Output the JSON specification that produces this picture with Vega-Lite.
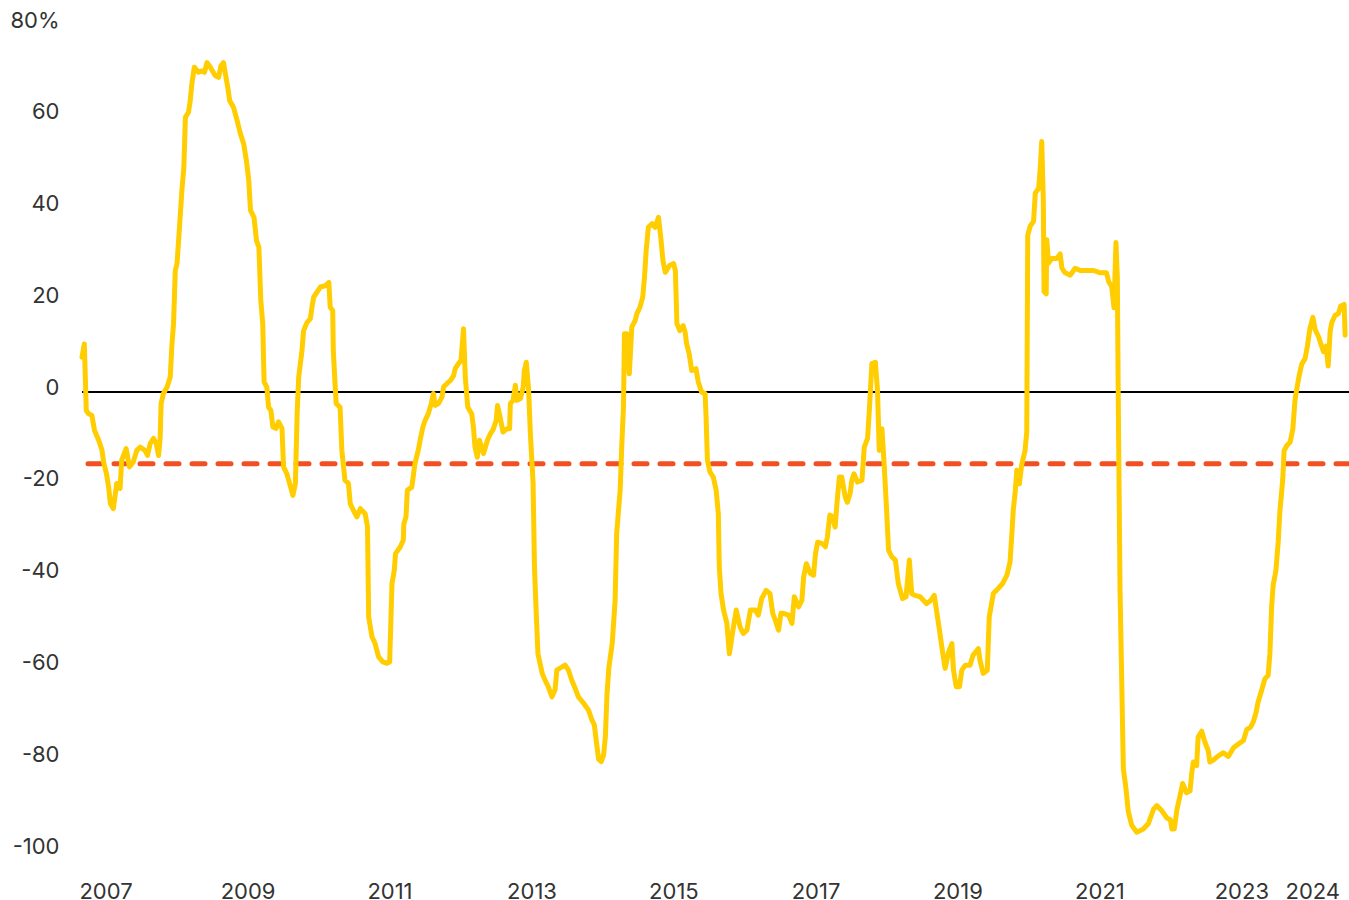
{
  "$schema": "https://vega.github.io/schema/vega-lite/v6.json",
  "width": 1267,
  "height": 826,
  "autosize": {"type": "none"},
  "padding": {"left": 82, "top": 25, "right": 0, "bottom": 49},
  "background": "#ffffff",
  "config": {
    "view": {"stroke": null},
    "font": "Inter",
    "axis": {"labelFont": "Inter", "labelFontSize": 22, "labelColor": "#333333", "domain": false, "ticks": false, "grid": false, "title": null}
  },
  "datasets": {
    "series": [
      {"d":"2006-09-02","v":7.6},{"d":"2006-09-14","v":10.5},{"d":"2006-09-24","v":-4.0},{"d":"2006-10-06","v":-4.7},{"d":"2006-10-23","v":-5.1},{"d":"2006-11-05","v":-8.3},{"d":"2006-11-27","v":-10.5},{"d":"2006-12-14","v":-12.7},{"d":"2006-12-22","v":-15.2},
      {"d":"2007-01-06","v":-17.8},{"d":"2007-01-17","v":-20.7},{"d":"2007-01-26","v":-24.3},{"d":"2007-02-10","v":-25.4},{"d":"2007-02-28","v":-19.9},{"d":"2007-03-17","v":-21.0},{"d":"2007-03-25","v":-14.9},{"d":"2007-04-17","v":-12.3},{"d":"2007-05-04","v":-16.3},{"d":"2007-05-24","v":-15.2},{"d":"2007-06-11","v":-12.7},{"d":"2007-06-28","v":-12.0},{"d":"2007-07-23","v":-12.7},{"d":"2007-08-05","v":-13.8},{"d":"2007-08-19","v":-11.2},{"d":"2007-09-05","v":-10.1},{"d":"2007-09-19","v":-11.2},{"d":"2007-10-01","v":-13.8},{"d":"2007-10-09","v":-10.1},{"d":"2007-10-14","v":-2.5},{"d":"2007-10-26","v":-0.3},{"d":"2007-11-14","v":1.1},{"d":"2007-11-30","v":3.3},{"d":"2007-12-09","v":10.5},{"d":"2007-12-17","v":14.9},{"d":"2007-12-26","v":26.5},
      {"d":"2008-01-04","v":28.0},{"d":"2008-01-12","v":33.0},{"d":"2008-01-21","v":38.8},{"d":"2008-01-29","v":43.9},{"d":"2008-02-08","v":49.0},{"d":"2008-02-16","v":59.9},{"d":"2008-03-03","v":61.0},{"d":"2008-03-12","v":63.5},{"d":"2008-03-20","v":67.1},{"d":"2008-04-02","v":70.8},{"d":"2008-04-24","v":69.7},{"d":"2008-05-11","v":70.0},{"d":"2008-05-24","v":69.7},{"d":"2008-06-06","v":71.8},{"d":"2008-06-23","v":70.8},{"d":"2008-07-18","v":69.0},{"d":"2008-08-05","v":68.6},{"d":"2008-08-17","v":71.1},{"d":"2008-08-30","v":71.8},{"d":"2008-09-09","v":69.3},{"d":"2008-09-21","v":66.4},{"d":"2008-10-01","v":63.5},{"d":"2008-10-21","v":62.0},{"d":"2008-11-08","v":59.2},{"d":"2008-11-25","v":56.3},{"d":"2008-12-12","v":54.1},{"d":"2008-12-26","v":50.4},
      {"d":"2009-01-07","v":46.1},{"d":"2009-01-16","v":39.6},{"d":"2009-02-03","v":38.1},{"d":"2009-02-16","v":33.0},{"d":"2009-02-28","v":31.6},{"d":"2009-03-10","v":20.0},{"d":"2009-03-20","v":14.9},{"d":"2009-03-27","v":2.2},{"d":"2009-04-10","v":1.1},{"d":"2009-04-19","v":-3.3},{"d":"2009-05-01","v":-4.0},{"d":"2009-05-11","v":-7.6},{"d":"2009-05-28","v":-7.9},{"d":"2009-06-09","v":-6.5},{"d":"2009-06-27","v":-7.9},{"d":"2009-07-05","v":-16.3},{"d":"2009-07-22","v":-17.8},{"d":"2009-08-05","v":-19.9},{"d":"2009-08-22","v":-22.5},{"d":"2009-09-04","v":-19.9},{"d":"2009-09-13","v":-4.6},{"d":"2009-09-21","v":3.3},{"d":"2009-10-08","v":9.1},{"d":"2009-10-16","v":13.4},{"d":"2009-11-03","v":15.2},{"d":"2009-11-20","v":16.0},{"d":"2009-11-28","v":18.5},{"d":"2009-12-07","v":20.7},{"d":"2009-12-24","v":21.8},
      {"d":"2010-01-11","v":22.9},{"d":"2010-02-06","v":23.2},{"d":"2010-02-23","v":23.9},{"d":"2010-03-02","v":18.5},{"d":"2010-03-15","v":17.8},{"d":"2010-03-18","v":9.1},{"d":"2010-03-27","v":1.8},{"d":"2010-04-02","v":-2.5},{"d":"2010-04-22","v":-3.3},{"d":"2010-05-01","v":-12.7},{"d":"2010-05-17","v":-19.2},{"d":"2010-06-04","v":-19.9},{"d":"2010-06-13","v":-24.3},{"d":"2010-06-30","v":-25.8},{"d":"2010-07-17","v":-27.2},{"d":"2010-08-04","v":-25.4},{"d":"2010-08-29","v":-26.5},{"d":"2010-09-10","v":-29.4},{"d":"2010-09-16","v":-49.0},{"d":"2010-10-03","v":-53.3},{"d":"2010-10-19","v":-54.8},{"d":"2010-11-06","v":-57.7},{"d":"2010-11-28","v":-58.8},{"d":"2010-12-19","v":-59.1},
      {"d":"2011-01-02","v":-58.8},{"d":"2011-01-14","v":-41.7},{"d":"2011-01-26","v":-38.8},{"d":"2011-02-01","v":-35.2},{"d":"2011-02-26","v":-33.7},{"d":"2011-03-13","v":-32.3},{"d":"2011-03-16","v":-28.7},{"d":"2011-03-27","v":-27.2},{"d":"2011-04-03","v":-21.4},{"d":"2011-04-26","v":-20.7},{"d":"2011-05-12","v":-15.6},{"d":"2011-05-29","v":-12.7},{"d":"2011-06-11","v":-9.8},{"d":"2011-06-22","v":-7.6},{"d":"2011-07-03","v":-6.2},{"d":"2011-07-20","v":-4.7},{"d":"2011-08-04","v":-2.5},{"d":"2011-08-15","v":-0.3},{"d":"2011-08-24","v":-2.9},{"d":"2011-09-10","v":-2.5},{"d":"2011-09-28","v":-1.1},{"d":"2011-10-06","v":1.1},{"d":"2011-11-01","v":2.2},{"d":"2011-11-10","v":2.5},{"d":"2011-11-27","v":3.6},{"d":"2011-12-05","v":5.1},{"d":"2011-12-22","v":6.2},
      {"d":"2012-01-04","v":6.9},{"d":"2012-01-17","v":13.8},{"d":"2012-01-26","v":3.3},{"d":"2012-02-08","v":-3.3},{"d":"2012-02-28","v":-4.7},{"d":"2012-03-08","v":-7.6},{"d":"2012-03-16","v":-12.0},{"d":"2012-03-28","v":-14.2},{"d":"2012-04-08","v":-10.5},{"d":"2012-04-29","v":-13.4},{"d":"2012-05-19","v":-10.5},{"d":"2012-06-03","v":-9.1},{"d":"2012-06-19","v":-8.0},{"d":"2012-07-03","v":-6.2},{"d":"2012-07-10","v":-2.9},{"d":"2012-07-23","v":-5.4},{"d":"2012-08-07","v":-8.7},{"d":"2012-08-27","v":-8.0},{"d":"2012-09-10","v":-8.0},{"d":"2012-09-14","v":-2.5},{"d":"2012-09-28","v":-1.8},{"d":"2012-10-10","v":1.5},{"d":"2012-10-18","v":-1.8},{"d":"2012-11-05","v":-1.4},{"d":"2012-11-19","v":1.1},{"d":"2012-11-25","v":4.7},{"d":"2012-12-05","v":6.5},{"d":"2012-12-17","v":0.4},{"d":"2012-12-26","v":-9.1},
      {"d":"2013-01-09","v":-19.9},{"d":"2013-01-16","v":-38.1},{"d":"2013-01-26","v":-49.0},{"d":"2013-02-03","v":-57.0},{"d":"2013-02-25","v":-61.3},{"d":"2013-03-12","v":-62.8},{"d":"2013-03-28","v":-64.2},{"d":"2013-04-16","v":-66.4},{"d":"2013-05-02","v":-64.9},{"d":"2013-05-11","v":-60.6},{"d":"2013-06-06","v":-59.9},{"d":"2013-06-23","v":-59.5},{"d":"2013-07-10","v":-60.6},{"d":"2013-07-27","v":-62.8},{"d":"2013-08-14","v":-64.6},{"d":"2013-08-30","v":-66.4},{"d":"2013-09-26","v":-67.8},{"d":"2013-10-21","v":-69.3},{"d":"2013-11-08","v":-71.5},{"d":"2013-11-20","v":-72.5},{"d":"2013-11-30","v":-76.0},{"d":"2013-12-12","v":-80.0},{"d":"2013-12-26","v":-80.5},
      {"d":"2014-01-07","v":-79.0},{"d":"2014-01-16","v":-75.0},{"d":"2014-01-24","v":-66.0},{"d":"2014-02-03","v":-60.0},{"d":"2014-02-20","v":-54.8},{"d":"2014-03-07","v":-45.4},{"d":"2014-03-15","v":-30.8},{"d":"2014-04-02","v":-21.4},{"d":"2014-04-10","v":-12.0},{"d":"2014-04-19","v":-3.3},{"d":"2014-04-24","v":12.7},{"d":"2014-05-06","v":12.7},{"d":"2014-05-19","v":4.0},{"d":"2014-06-01","v":14.2},{"d":"2014-06-18","v":15.6},{"d":"2014-06-27","v":17.1},{"d":"2014-07-13","v":18.5},{"d":"2014-07-27","v":20.7},{"d":"2014-08-05","v":25.0},{"d":"2014-08-14","v":30.9},{"d":"2014-08-25","v":35.9},{"d":"2014-09-13","v":36.7},{"d":"2014-09-29","v":35.9},{"d":"2014-10-16","v":38.1},{"d":"2014-10-28","v":33.7},{"d":"2014-11-08","v":28.7},{"d":"2014-11-20","v":26.1},{"d":"2014-12-12","v":27.6},
      {"d":"2015-01-02","v":28.0},{"d":"2015-01-11","v":26.5},{"d":"2015-01-19","v":14.9},{"d":"2015-02-03","v":13.4},{"d":"2015-02-20","v":14.5},{"d":"2015-03-02","v":13.1},{"d":"2015-03-10","v":10.5},{"d":"2015-03-23","v":8.4},{"d":"2015-04-05","v":4.7},{"d":"2015-04-27","v":5.1},{"d":"2015-05-09","v":2.2},{"d":"2015-05-26","v":0.0},{"d":"2015-06-13","v":-0.3},{"d":"2015-06-18","v":-5.4},{"d":"2015-06-25","v":-14.9},{"d":"2015-07-08","v":-17.4},{"d":"2015-07-25","v":-18.5},{"d":"2015-08-09","v":-21.4},{"d":"2015-08-20","v":-26.5},{"d":"2015-08-25","v":-38.1},{"d":"2015-09-03","v":-43.9},{"d":"2015-09-16","v":-47.5},{"d":"2015-10-03","v":-50.4},{"d":"2015-10-16","v":-57.0},{"d":"2015-11-03","v":-51.9},{"d":"2015-11-20","v":-47.5},{"d":"2015-12-10","v":-51.2},{"d":"2015-12-27","v":-52.6},
      {"d":"2016-01-14","v":-51.9},{"d":"2016-02-01","v":-47.5},{"d":"2016-02-26","v":-47.5},{"d":"2016-03-13","v":-48.6},{"d":"2016-03-30","v":-45.0},{"d":"2016-04-22","v":-43.2},{"d":"2016-05-12","v":-43.9},{"d":"2016-05-26","v":-48.2},{"d":"2016-06-08","v":-49.7},{"d":"2016-06-25","v":-51.9},{"d":"2016-07-07","v":-48.2},{"d":"2016-07-20","v":-48.2},{"d":"2016-08-15","v":-48.6},{"d":"2016-09-02","v":-50.4},{"d":"2016-09-14","v":-44.6},{"d":"2016-10-06","v":-46.8},{"d":"2016-10-23","v":-45.4},{"d":"2016-11-01","v":-40.3},{"d":"2016-11-15","v":-37.4},{"d":"2016-12-05","v":-39.5},{"d":"2016-12-22","v":-39.9},
      {"d":"2017-01-01","v":-35.2},{"d":"2017-01-12","v":-32.7},{"d":"2017-02-04","v":-33.0},{"d":"2017-02-21","v":-33.7},{"d":"2017-03-03","v":-31.6},{"d":"2017-03-16","v":-26.8},{"d":"2017-03-30","v":-27.2},{"d":"2017-04-12","v":-29.4},{"d":"2017-04-24","v":-22.9},{"d":"2017-05-04","v":-18.5},{"d":"2017-05-16","v":-18.5},{"d":"2017-06-03","v":-22.9},{"d":"2017-06-14","v":-24.0},{"d":"2017-06-28","v":-22.1},{"d":"2017-07-07","v":-19.2},{"d":"2017-07-18","v":-17.8},{"d":"2017-08-05","v":-19.6},{"d":"2017-08-28","v":-19.2},{"d":"2017-09-09","v":-12.0},{"d":"2017-09-26","v":-10.1},{"d":"2017-10-06","v":-3.3},{"d":"2017-10-18","v":6.2},{"d":"2017-11-05","v":6.5},{"d":"2017-11-16","v":0.4},{"d":"2017-11-25","v":-12.7},{"d":"2017-12-09","v":-8.0},{"d":"2017-12-20","v":-15.6},
      {"d":"2018-01-01","v":-25.0},{"d":"2018-01-12","v":-34.5},{"d":"2018-01-29","v":-35.9},{"d":"2018-02-16","v":-36.6},{"d":"2018-03-03","v":-41.7},{"d":"2018-03-25","v":-45.0},{"d":"2018-04-12","v":-44.6},{"d":"2018-04-29","v":-36.6},{"d":"2018-05-11","v":-43.9},{"d":"2018-05-28","v":-44.3},{"d":"2018-06-23","v":-44.6},{"d":"2018-07-27","v":-46.1},{"d":"2018-08-17","v":-45.4},{"d":"2018-09-04","v":-44.3},{"d":"2018-09-18","v":-48.2},{"d":"2018-10-01","v":-51.9},{"d":"2018-10-13","v":-55.5},{"d":"2018-10-30","v":-60.2},{"d":"2018-11-17","v":-56.6},{"d":"2018-12-04","v":-54.8},{"d":"2018-12-12","v":-60.6},{"d":"2018-12-26","v":-64.2},
      {"d":"2019-01-12","v":-64.2},{"d":"2019-01-24","v":-60.6},{"d":"2019-02-11","v":-59.5},{"d":"2019-03-07","v":-59.5},{"d":"2019-03-23","v":-57.3},{"d":"2019-04-19","v":-55.9},{"d":"2019-04-27","v":-58.4},{"d":"2019-05-14","v":-61.3},{"d":"2019-06-04","v":-60.6},{"d":"2019-06-14","v":-49.0},{"d":"2019-07-05","v":-43.9},{"d":"2019-07-30","v":-42.8},{"d":"2019-08-22","v":-41.7},{"d":"2019-09-13","v":-39.9},{"d":"2019-09-29","v":-37.0},{"d":"2019-10-08","v":-31.1},{"d":"2019-10-16","v":-25.5},{"d":"2019-10-25","v":-22.0},{"d":"2019-11-03","v":-17.0},{"d":"2019-11-16","v":-20.0},{"d":"2019-11-28","v":-15.8},{"d":"2019-12-15","v":-12.8},{"d":"2019-12-24","v":-8.7},{"d":"2019-12-29","v":34.2},
      {"d":"2020-01-11","v":36.2},{"d":"2020-01-28","v":37.2},{"d":"2020-02-06","v":43.4},{"d":"2020-02-23","v":44.4},{"d":"2020-03-02","v":48.5},{"d":"2020-03-10","v":54.6},{"d":"2020-03-18","v":42.3},{"d":"2020-03-22","v":21.9},{"d":"2020-04-02","v":21.4},{"d":"2020-04-05","v":33.2},{"d":"2020-04-14","v":28.1},{"d":"2020-05-01","v":29.1},{"d":"2020-05-26","v":29.1},{"d":"2020-06-13","v":30.1},{"d":"2020-06-22","v":27.0},{"d":"2020-07-08","v":26.0},{"d":"2020-08-04","v":25.5},{"d":"2020-08-29","v":27.0},{"d":"2020-09-24","v":26.5},{"d":"2020-10-28","v":26.5},{"d":"2020-12-02","v":26.5},
      {"d":"2021-01-06","v":26.0},{"d":"2021-02-06","v":26.0},{"d":"2021-02-18","v":24.0},{"d":"2021-03-05","v":23.0},{"d":"2021-03-17","v":18.4},{"d":"2021-03-27","v":32.6},{"d":"2021-04-03","v":25.0},{"d":"2021-04-08","v":-2.6},{"d":"2021-04-17","v":-43.4},{"d":"2021-04-26","v":-63.8},{"d":"2021-05-04","v":-82.1},{"d":"2021-05-17","v":-86.2},{"d":"2021-05-29","v":-91.3},{"d":"2021-06-16","v":-94.4},{"d":"2021-07-12","v":-95.9},{"d":"2021-08-15","v":-95.2},{"d":"2021-09-10","v":-94.0},{"d":"2021-10-06","v":-90.9},{"d":"2021-10-23","v":-90.1},{"d":"2021-11-19","v":-91.3},{"d":"2021-12-14","v":-92.8},
      {"d":"2022-01-01","v":-93.2},{"d":"2022-01-09","v":-95.2},{"d":"2022-01-21","v":-95.2},{"d":"2022-02-04","v":-90.9},{"d":"2022-02-21","v":-87.7},{"d":"2022-03-05","v":-85.3},{"d":"2022-03-25","v":-87.3},{"d":"2022-04-12","v":-86.9},{"d":"2022-04-21","v":-83.0},{"d":"2022-04-29","v":-80.6},{"d":"2022-05-16","v":-81.4},{"d":"2022-05-24","v":-75.1},{"d":"2022-06-11","v":-73.9},{"d":"2022-06-28","v":-76.3},{"d":"2022-07-15","v":-78.2},{"d":"2022-07-23","v":-80.6},{"d":"2022-08-10","v":-80.2},{"d":"2022-09-06","v":-79.2},{"d":"2022-10-01","v":-78.6},{"d":"2022-10-26","v":-79.4},{"d":"2022-11-22","v":-77.5},{"d":"2022-12-17","v":-76.7},
      {"d":"2023-01-12","v":-75.9},{"d":"2023-01-29","v":-73.5},{"d":"2023-02-16","v":-73.1},{"d":"2023-03-03","v":-71.9},{"d":"2023-03-17","v":-70.0},{"d":"2023-03-28","v":-67.6},{"d":"2023-04-16","v":-64.9},{"d":"2023-05-02","v":-62.5},{"d":"2023-05-19","v":-61.7},{"d":"2023-05-28","v":-57.0},{"d":"2023-06-06","v":-46.7},{"d":"2023-06-14","v":-42.0},{"d":"2023-06-28","v":-38.9},{"d":"2023-07-10","v":-32.5},{"d":"2023-07-18","v":-26.2},{"d":"2023-08-02","v":-19.1},{"d":"2023-08-09","v":-12.8},{"d":"2023-08-22","v":-11.7},{"d":"2023-09-09","v":-10.9},{"d":"2023-09-23","v":-8.1},{"d":"2023-10-04","v":-1.8},{"d":"2023-10-13","v":0.6},{"d":"2023-10-26","v":3.7},{"d":"2023-11-08","v":6.1},{"d":"2023-11-25","v":7.3},{"d":"2023-12-07","v":10.0},{"d":"2023-12-20","v":13.9},
      {"d":"2024-01-04","v":16.3},{"d":"2024-01-16","v":13.6},{"d":"2024-02-03","v":12.0},{"d":"2024-02-15","v":10.4},{"d":"2024-02-28","v":8.8},{"d":"2024-03-12","v":10.0},{"d":"2024-03-23","v":5.7},{"d":"2024-04-02","v":13.2},{"d":"2024-04-10","v":15.1},{"d":"2024-04-27","v":16.7},{"d":"2024-05-14","v":17.1},{"d":"2024-05-26","v":18.7},{"d":"2024-06-13","v":19.1},{"d":"2024-06-18","v":12.4}
    ],
    "zero": [{"level": 0}],
    "avg": [{"level": -15.6}]
  },
  "layer": [
    {
      "data": {"name": "zero"},
      "mark": {"type": "rule", "color": "#000000", "strokeWidth": 2},
      "encoding": {
        "y": {"field": "level", "type": "quantitative", "scale": {"domain": [-100, 80]}}
      }
    },
    {
      "data": {"name": "avg"},
      "mark": {"type": "rule", "color": "#F25022", "strokeWidth": 5, "strokeDash": [13, 13], "strokeCap": "round"},
      "encoding": {
        "y": {"field": "level", "type": "quantitative"}
      }
    },
    {
      "data": {"name": "series"},
      "mark": {"type": "line", "color": "#FFCD00", "strokeWidth": 5, "strokeJoin": "round", "strokeCap": "round"},
      "encoding": {
        "x": {
          "field": "d", "type": "temporal",
          "scale": {"domain": [{"year": 2006, "month": 9, "date": 2}, {"year": 2024, "month": 7, "date": 8}]},
          "axis": {
            "values": [{"year": 2007}, {"year": 2009}, {"year": 2011}, {"year": 2013}, {"year": 2015}, {"year": 2017}, {"year": 2019}, {"year": 2021}, {"year": 2023}, {"year": 2024}],
            "format": "%Y", "labelPadding": 30, "labelAngle": 0, "labelOverlap": false
          }
        },
        "y": {
          "field": "v", "type": "quantitative",
          "scale": {"domain": [-100, 80], "nice": false},
          "axis": {
            "values": [-100, -80, -60, -40, -20, 0, 20, 40, 60, 80],
            "labelExpr": "datum.value == 80 ? '80%' : toString(datum.value)",
            "labelPadding": 23, "labelOffset": -5
          }
        }
      }
    }
  ]
}
